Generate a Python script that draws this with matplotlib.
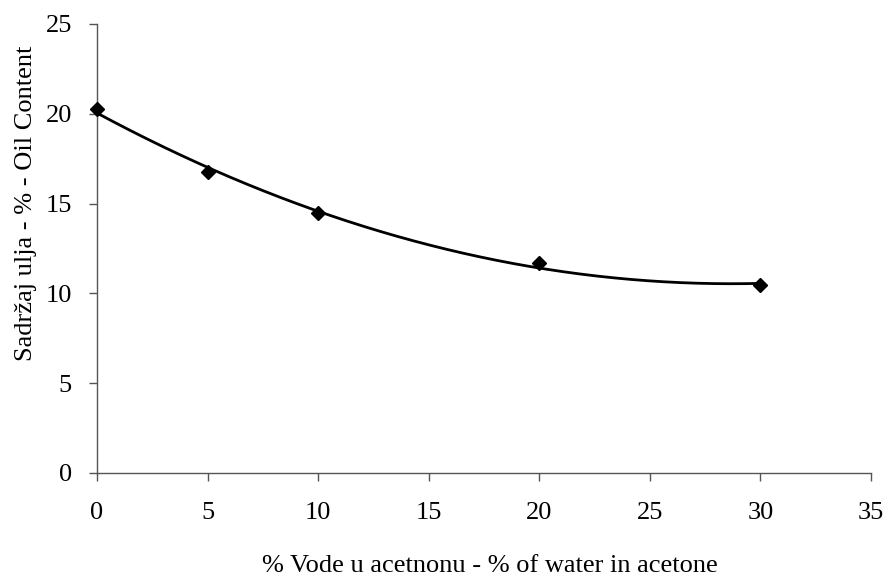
import numpy as np
import matplotlib
matplotlib.use("Agg")
import matplotlib.pyplot as plt

# water content in acetone (%) and oil content (%)
water_pct = [0, 5, 10, 20, 30]
oil_content = [20.25, 16.75, 14.45, 11.7, 10.45]

x_ticks = [0, 5, 10, 15, 20, 25, 30, 35]
y_ticks = [0, 5, 10, 15, 20, 25]

plt.rcParams['font.family'] = ['Liberation Serif', 'DejaVu Serif']
plt.rcParams['font.size'] = 19

fig = plt.figure(figsize=(8.85, 5.82), dpi=100)
ax = fig.add_axes([0.1096, 0.1873, 0.8746, 0.7715])

# 2nd order polynomial trendline (as in the original spreadsheet chart)
coef = np.polyfit(water_pct, oil_content, 2)
xs = np.linspace(min(water_pct), max(water_pct), 200)
ax.plot(xs, np.polyval(coef, xs), color='black', linewidth=2, clip_on=False)
ax.plot(water_pct, oil_content, linestyle='none', marker='D', markersize=7,
        color='black', clip_on=False, zorder=3)

ax.set_xlim(0, 35)
ax.set_ylim(0, 25)
ax.set_xticks(x_ticks)
ax.set_yticks(y_ticks)
ax.spines['top'].set_visible(False)
ax.spines['right'].set_visible(False)
for s in ('left', 'bottom'):
    ax.spines[s].set_color('#555555')
    ax.spines[s].set_linewidth(1.0)
ax.tick_params(direction='out', length=6, width=1.0, color='#555555')
ax.tick_params(axis='x', pad=15)
ax.tick_params(axis='y', pad=12)

ax.set_xlabel('% Vode u acetnonu - % of water in acetone')
ax.set_ylabel('Sadržaj ulja - % - Oil Content')
ax.xaxis.set_label_coords(0.507, -0.183)
ax.yaxis.set_label_coords(-0.078, 0.60)

fig.savefig('out.png', dpi=100)
